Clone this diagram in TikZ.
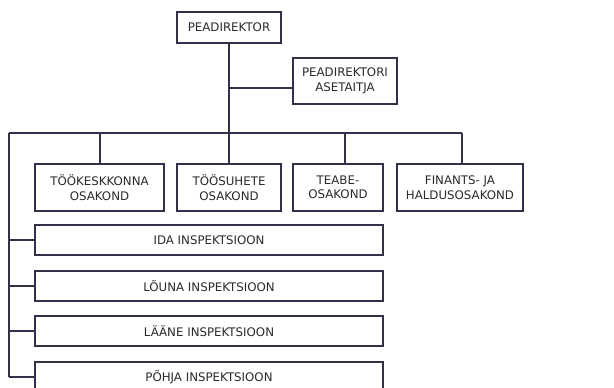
\documentclass[tikz,border=0pt]{standalone}
\usepackage{fontspec}
\setmainfont{DejaVu Sans}
\definecolor{ln}{HTML}{35304A}
\definecolor{tx}{HTML}{2A2A2A}
\begin{document}
\begin{tikzpicture}[x=1pt,y=-1pt,
  box/.style={draw=ln,line width=1.3pt,fill=white,inner sep=0pt,align=center,
    text=tx,font=\fontsize{11.8}{14.5}\selectfont},
  link/.style={draw=ln,line width=1.3pt}]
\useasboundingbox (0,0) rectangle (614,388);
\begin{scope}
\clip (0,0) rectangle (614,388);
\node[box,minimum width=104pt,minimum height=31pt] (pd) at (229,27.5) {PEADIREKTOR};
\node[box,minimum width=104pt,minimum height=46pt] (as) at (345,81) {PEADIREKTORI\\ASETAITJA};
\node[box,minimum width=129pt,minimum height=47pt] (o1) at (99.5,187.5) {TÖÖKESKKONNA\\OSAKOND};
\node[box,minimum width=104pt,minimum height=47pt] (o2) at (229,187.5) {TÖÖSUHETE\\OSAKOND};
\node[box,minimum width=90pt,minimum height=47pt] (o3) at (338,187.5) {TEABE-\\OSAKOND};
\node[box,minimum width=126pt,minimum height=47pt] (o4) at (460,187.5) {FINANTS- JA\\HALDUSOSAKOND};
\node[box,minimum width=348pt,minimum height=30pt] (i1) at (209,240) {IDA INSPEKTSIOON};
\node[box,minimum width=348pt,minimum height=30pt] (i2) at (209,286) {LÕUNA INSPEKTSIOON};
\node[box,minimum width=348pt,minimum height=30pt] (i3) at (209,331) {LÄÄNE INSPEKTSIOON};
\node[box,minimum width=348pt,minimum height=30pt] (i4) at (209,377) {PÕHJA INSPEKTSIOON};
\coordinate (bl) at (9,133);
\coordinate (br) at (462,133);
\coordinate (bc) at (229,133);
\coordinate (ab) at (229,88);
\coordinate (lb) at (9,377);
\draw[link] (pd.south) -- (bc);
\draw[link] (ab) -- (ab -| as.west);
\draw[link] (bl) -- (br);
\draw[link] (bl) -- (lb);
\draw[link] (o1.north -| 100,0) -- (100,133);
\draw[link] (o2.north) -- (bc);
\draw[link] (345,133) -- (o3.north -| 345,0);
\draw[link] (br) -- (o4.north -| br);
\draw[link] (9,240) -- (i1.west);
\draw[link] (9,286) -- (i2.west);
\draw[link] (9,331) -- (i3.west);
\draw[link] (lb) -- (i4.west);
\end{scope}
\end{tikzpicture}
\end{document}
